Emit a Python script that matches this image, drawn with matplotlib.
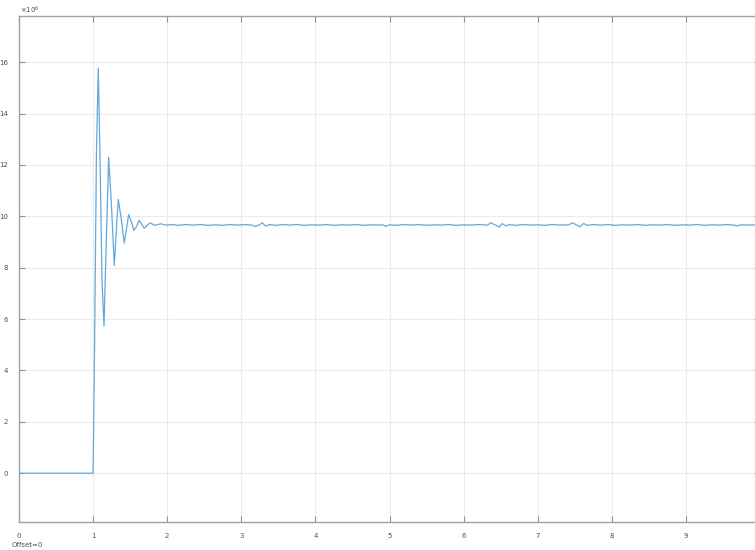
import matplotlib
matplotlib.use("Agg")
from matplotlib import pyplot as plt

temps = [0.0, 1.0, 1.02, 1.045, 1.07, 1.095, 1.12, 1.147, 1.18, 1.21, 1.25, 1.286,
         1.31, 1.34, 1.38, 1.42, 1.45, 1.48, 1.515, 1.55, 1.585, 1.62, 1.655,
         1.69, 1.73, 1.77, 1.83, 1.91, 1.98, 2.06, 2.15, 2.25, 2.35, 2.45, 2.55,
         2.65, 2.75, 2.85, 2.95, 3.05, 3.14, 3.185, 3.24, 3.28, 3.33, 3.38,
         3.47, 3.56, 3.65, 3.75, 3.85, 3.95, 4.05, 4.15, 4.25, 4.35, 4.45, 4.55,
         4.65, 4.75, 4.85, 4.91, 4.95, 5.0, 5.1, 5.2, 5.3, 5.4, 5.5, 5.6, 5.7,
         5.8, 5.9, 6.0, 6.1, 6.2, 6.32, 6.37, 6.43, 6.48, 6.52, 6.57, 6.62,
         6.7, 6.8, 6.9, 7.0, 7.1, 7.2, 7.3, 7.42, 7.47, 7.52, 7.57, 7.62, 7.67,
         7.75, 7.85, 7.95, 8.05, 8.15, 8.25, 8.35, 8.45, 8.55, 8.65, 8.75, 8.85,
         8.95, 9.05, 9.15, 9.25, 9.35, 9.45, 9.55, 9.65, 9.69, 9.75, 9.85, 10.0]
valeurs = [0.0, 0.0, 5.0, 12.5, 15.77, 12.0, 7.5, 5.73, 9.2, 12.3, 10.3, 8.09,
           9.3, 10.66, 9.9, 8.96, 9.5, 10.07, 9.8, 9.45, 9.6, 9.84, 9.7,
           9.54, 9.65, 9.75, 9.65, 9.71, 9.66, 9.68, 9.65, 9.68, 9.66, 9.68, 9.65,
           9.67, 9.65, 9.68, 9.66, 9.68, 9.66, 9.61, 9.66, 9.75, 9.62, 9.68,
           9.65, 9.68, 9.66, 9.68, 9.65, 9.67, 9.66, 9.68, 9.65, 9.67, 9.66, 9.68,
           9.65, 9.67, 9.66, 9.67, 9.61, 9.67, 9.65, 9.68, 9.66, 9.68, 9.65, 9.67,
           9.66, 9.68, 9.65, 9.67, 9.66, 9.68, 9.66, 9.75, 9.66, 9.58, 9.72, 9.63,
           9.68, 9.65, 9.68, 9.66, 9.67, 9.65, 9.68, 9.66, 9.67, 9.75, 9.67, 9.59,
           9.72, 9.65, 9.68, 9.66, 9.68, 9.65, 9.67, 9.66, 9.68, 9.65, 9.67, 9.66,
           9.68, 9.65, 9.67, 9.66, 9.68, 9.65, 9.67, 9.66, 9.68, 9.66, 9.63, 9.67,
           9.66, 9.67]

xticks = list(range(0, 10))
yticks = list(range(0, 17, 2))

fig = plt.figure(figsize=(7.55, 5.5), dpi=100)
fig.patch.set_facecolor("white")
# axe qui déborde à droite comme sur la capture
ax = fig.add_axes([19 / 755, 28 / 550, 741 / 755, 506 / 550])

ax.plot(temps, valeurs, color="#62a9dd", lw=0.9)

ax.set_xlim(0, 10)
ax.set_ylim(-1.9, 17.8)
ax.set_xticks(xticks)
ax.set_yticks(yticks)
ax.grid(True, color="#ebebeb", lw=0.8)
ax.set_axisbelow(True)

# style scope : graduations vers l'intérieur, sur tous les côtés
ax.tick_params(direction="in", length=4, width=0.8, colors="#909090",
               labelcolor="#505050", labelsize=5, top=True, right=True, pad=8)
for s in ax.spines.values():
    s.set_color("#a0a0a0")
    s.set_linewidth(1.0)

fig.text(20 / 755, 1 - 10 / 550, r"$\times10^{6}$", fontsize=5, color="#505050",
         ha="left", va="center")
fig.text(12 / 755, 1 - 545 / 550, "Offset=0", fontsize=5, color="#505050",
         ha="left", va="center")

fig.savefig("out.png", dpi=100)
